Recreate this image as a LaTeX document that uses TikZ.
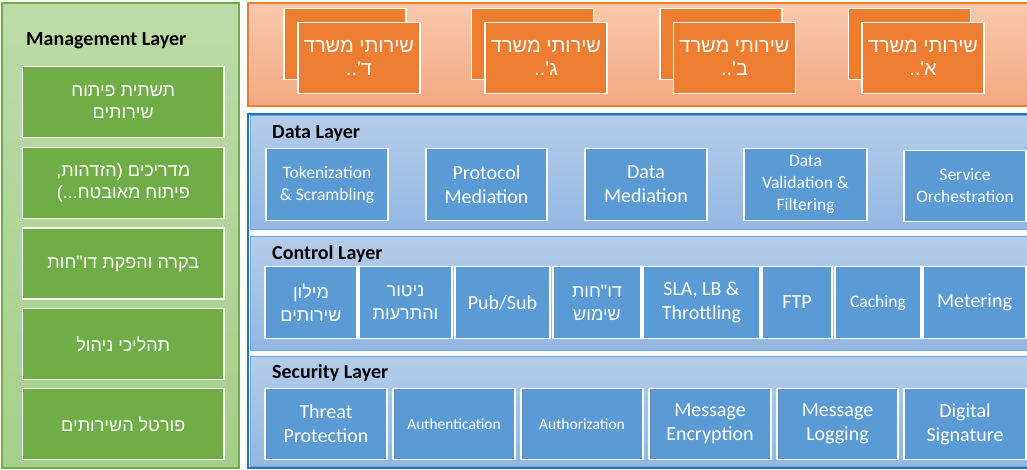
\documentclass[tikz,border=0pt]{standalone}
\usepackage{fontspec}
\setmainfont{Carlito}
\newfontfamily\hebfont[Script=Hebrew]{Liberation Sans}
\TeXXeTstate=1
\newcommand\hebl[1]{\beginR#1\endR}
\definecolor{mgreen}{HTML}{70AD47}
\definecolor{mgtop}{HTML}{BCDBA8}
\definecolor{mgbot}{HTML}{A6CF8A}
\definecolor{orline}{HTML}{ED7D31}
\definecolor{ortop}{HTML}{F8C8AC}
\definecolor{orbot}{HTML}{F4A882}
\definecolor{blline}{HTML}{1F72BE}
\definecolor{bltop}{HTML}{B4CCE9}
\definecolor{blbot}{HTML}{93B7E2}
\definecolor{blband}{HTML}{6FA3D9}
\definecolor{blbox}{HTML}{5B9BD5}
\tikzset{
  mgbox/.style={draw=white, line width=1.5pt, fill=mgreen, text=white, align=center,
    minimum width=201.5pt, minimum height=71pt, inner sep=0pt,
    font=\hebfont\fontsize{18}{22}\selectfont},
  card/.style={draw=white, line width=1.5pt, fill=orline, text=white, align=center,
    minimum width=122pt, minimum height=71pt, inner sep=0pt,
    font=\hebfont\fontsize{20}{23}\selectfont},
  bbox/.style={draw=white, line width=1.5pt, fill=blbox, text=white, align=center,
    minimum height=72pt, inner sep=0pt, font=\fontsize{20}{24}\selectfont},
  small/.style={font=\fontsize{17.5}{22}\selectfont},
  tiny/.style={font=\fontsize{15.5}{20}\selectfont},
  heb/.style={font=\hebfont\fontsize{18}{23}\selectfont},
  ttl/.style={anchor=west, inner sep=0pt, font=\bfseries\fontsize{20}{24}\selectfont},
  band/.style={draw=blband, line width=1pt, top color=bltop, bottom color=blbot},
}
\begin{document}
\begin{tikzpicture}[x=1pt,y=-1pt]
\useasboundingbox (0,0) rectangle (1027,470);
% Management panel
\draw[draw=mgreen, line width=2pt, top color=mgtop, bottom color=mgbot] (2,3) rectangle (239,468);
\node[ttl] (mgt) at (26,41) {Management Layer};
\node[mgbox] (m1) at (123.25,102) {\hebl{תשתית פיתוח}\\\hebl{שירותים}};
\node[mgbox] (m2) at (123.25,183) {\hebl{מדריכים (הזדהות,}\\\hebl{פיתוח מאובטח...)}};
\node[mgbox] (m3) at (123.25,263.5) {\hebl{בקרה והפקת דו"חות}};
\node[mgbox] (m4) at (123.25,344) {\hebl{תהליכי ניהול}};
\node[mgbox] (m5) at (123.25,424) {\hebl{פורטל השירותים}};
% Orange panel
\draw[draw=orline, line width=2pt, top color=ortop, bottom color=orbot] (248,3) rectangle (1032,106);
\node[card] (d0) at (345,44) {};
\node[card] (d1) at (359,58) {\hebl{שירותי משרד}\\\hebl{ד'..}};
\node[card] (g0) at (532.5,44) {};
\node[card] (g1) at (546,58) {\hebl{שירותי משרד}\\\hebl{ג'..}};
\node[card] (b0) at (721,44) {};
\node[card] (b1) at (734.5,58) {\hebl{שירותי משרד}\\\hebl{ב'..}};
\node[card] (a0) at (909.5,44) {};
\node[card] (a1) at (923,58) {\hebl{שירותי משרד}\\\hebl{א'..}};
% Blue panel
\draw[draw=blline, line width=2pt, fill=white] (248,114) rectangle (1032,468);
\draw[band] (250,116) rectangle (1032,230);
\draw[band] (250,237) rectangle (1032,350);
\draw[band] (250,356) rectangle (1032,466.5);
% Data layer
\node[ttl] (dlt) at (272,134) {Data Layer};
\node[bbox, small, minimum width=122pt] (d1) at (327,184.5) {Tokenization\\\& Scrambling};
\node[bbox, minimum width=121pt] (d2) at (486.5,184.5) {Protocol\\Mediation};
\node[bbox, minimum width=122pt] (d3) at (646,184.5) {Data\\Mediation};
\node[bbox, small, minimum width=123pt] (d4) at (805.5,184.5) {Data\\Validation \&\\Filtering};
\node[bbox, small, minimum width=122pt, minimum height=71pt] (d5) at (965,186) {Service\\Orchestration};
% Control layer
\node[ttl] (clt) at (272,254) {Control Layer};
\node[bbox, heb, minimum width=92pt] (c1) at (311,302.5) {\hebl{מילון}\\\hebl{שירותים}};
\node[bbox, heb, minimum width=93pt] (c2) at (405.5,302.5) {\hebl{ניטור}\\\hebl{והתרעות}};
\node[bbox, minimum width=95pt] (c3) at (502.5,302.5) {Pub/Sub};
\node[bbox, heb, minimum width=88pt] (c4) at (597,302.5) {\hebl{דו"חות}\\\hebl{שימוש}};
\node[bbox, minimum width=117pt] (c5) at (701.5,302.5) {SLA, LB \&\\Throttling};
\node[bbox, minimum width=70pt] (c6) at (797,302.5) {FTP};
\node[bbox, small, minimum width=86pt] (c7) at (878,302.5) {Caching};
\node[bbox, minimum width=103pt] (c8) at (974.5,302.5) {Metering};
% Security layer
\node[ttl] (slt) at (272,373) {Security Layer};
\node[bbox, minimum width=122pt, minimum height=71pt] (s1) at (326,424) {Threat\\Protection};
\node[bbox, tiny, minimum width=122pt, minimum height=71pt] (s2) at (454,424) {Authentication};
\node[bbox, tiny, minimum width=122pt, minimum height=71pt] (s3) at (582,424) {Authorization};
\node[bbox, minimum width=122pt, minimum height=71pt] (s4) at (710,424) {Message\\Encryption};
\node[bbox, minimum width=121pt, minimum height=71pt] (s5) at (837.5,424) {Message\\Logging};
\node[bbox, minimum width=122pt, minimum height=71pt] (s6) at (965,424) {Digital\\Signature};
\end{tikzpicture}
\end{document}
